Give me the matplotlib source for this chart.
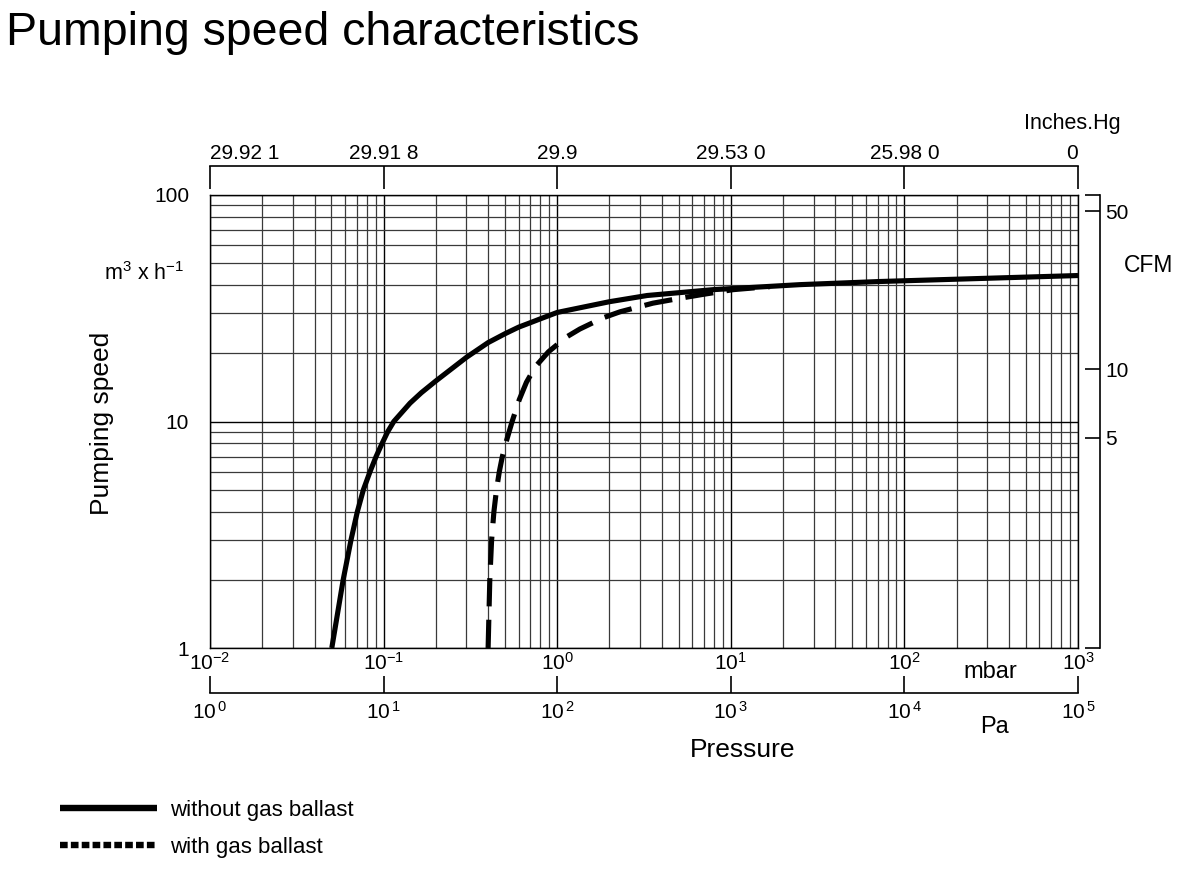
import matplotlib
matplotlib.use('Agg')
import matplotlib.pyplot as plt
from matplotlib.lines import Line2D
from matplotlib.ticker import FixedLocator, NullFormatter, NullLocator, LogLocator

plt.rcParams['font.family'] = ['Liberation Sans', 'DejaVu Sans']
plt.rcParams['mathtext.fontset'] = 'custom'
plt.rcParams['mathtext.rm'] = 'Liberation Sans'
plt.rcParams['mathtext.it'] = 'Liberation Sans:italic'
plt.rcParams['mathtext.bf'] = 'Liberation Sans:bold'

# pumping speed curves (pressure in mbar, speed in m3/h)
solid_p = [0.0503, 0.0585, 0.0649, 0.0706, 0.0765, 0.0835, 0.0905, 0.0980, 0.1055,
           0.1145, 0.142, 0.165, 0.2, 0.3, 0.4, 0.5, 0.6, 0.7, 0.8, 1.0,
           2.0, 3.3, 7.9, 25.0, 72.0, 1000.0]
solid_s = [1.0, 2.0, 3.0, 4.0, 5.0, 6.0, 7.0, 8.0, 9.0,
           10.0, 12.05, 13.4, 15.1, 19.2, 22.3, 24.4, 26.1, 27.3, 28.4, 30.3,
           33.8, 36.0, 38.2, 40.2, 41.5, 44.1]

ballast_p = [0.400, 0.409, 0.419, 0.432, 0.447, 0.464, 0.483, 0.505, 0.55, 0.605,
             0.665, 0.75, 0.89, 1.13, 1.35, 1.84, 2.30, 3.56, 5.1, 6.9,
             10.3, 14.2, 16.8]
ballast_s = [1.0, 2.0, 3.0, 4.0, 5.0, 6.0, 7.0, 8.0, 10.0, 12.5,
             14.9, 17.5, 20.3, 23.6, 25.6, 28.7, 30.5, 33.3, 35.0, 36.4,
             38.2, 39.0, 39.4]

# axis labelling
mbar_ticks = [1e-2, 1e-1, 1e0, 1e1, 1e2, 1e3]
mbar_exp = ['-2', '-1', '0', '1', '2', '3']
pa_ticks = [1e0, 1e1, 1e2, 1e3, 1e4, 1e5]
pa_exp = ['0', '1', '2', '3', '4', '5']
inhg_labels = ['29.92 1', '29.91 8', '29.9', '29.53 0', '25.98 0', '0']
speed_ticks = [1, 10, 100]
cfm_ticks = [5, 10, 50]
M3H_TO_CFM = 0.5886

W, H = 1184, 884
fig = plt.figure(figsize=(W / 100, H / 100), dpi=100)


def fx(px):
    return px / W


def fy(py):
    return 1 - py / H


x0, x1, y0, y1 = 210, 1078, 195, 648
ax = fig.add_axes([fx(x0), fy(y1), fx(x1) - fx(x0), fy(y0) - fy(y1)])
ax.set_xscale('log')
ax.set_yscale('log')
ax.set_xlim(1e-2, 1e3)
ax.set_ylim(1, 100)

ax.plot(solid_p, solid_s, color='black', lw=3.7, solid_capstyle='butt',
        solid_joinstyle='round', zorder=5)
ax.plot(ballast_p, ballast_s, color='black', lw=3.7, dashes=(5.5, 2.6),
        dash_capstyle='butt', dash_joinstyle='round', zorder=5)

ax.xaxis.set_minor_locator(LogLocator(subs=range(2, 10), numticks=20))
ax.yaxis.set_minor_locator(LogLocator(subs=range(2, 10), numticks=20))
ax.xaxis.set_minor_formatter(NullFormatter())
ax.yaxis.set_minor_formatter(NullFormatter())
ax.grid(which='major', color='black', lw=1.0)
ax.grid(which='minor', color='#3a3a3a', lw=0.9)
ax.set_axisbelow(True)
for s in ax.spines.values():
    s.set_linewidth(1.0)

ax.set_xticks(mbar_ticks, [r'$\mathregular{10^{%s}}$' % e for e in mbar_exp])
ax.set_yticks(speed_ticks, [str(v) for v in speed_ticks])
ax.tick_params(which='both', length=0, labelsize=15)
ax.tick_params(axis='x', pad=3)
ax.tick_params(axis='y', pad=15)

# top inches Hg scale
ax_top = ax.secondary_xaxis(1 + 29 / (y1 - y0))
ax_top.xaxis.set_minor_locator(NullLocator())
ax_top.set_xticks(mbar_ticks, inhg_labels)
ax_top.tick_params(direction='in', length=16.5, width=1.2, labelsize=15, pad=2)
ax_top.spines['top'].set_linewidth(1.2)
tl = ax_top.get_xticklabels()
tl[0].set_ha('left')
tl[-1].set_ha('right')

# bottom Pa scale
ax_pa = ax.secondary_xaxis(-(693 - y1) / (y1 - y0),
                           functions=(lambda x: x * 100, lambda x: x / 100))
ax_pa.xaxis.set_minor_locator(NullLocator())
ax_pa.set_xticks(pa_ticks, [r'$\mathregular{10^{\,%s}}$' % e for e in pa_exp])
ax_pa.tick_params(direction='in', length=12, width=1.2, labelsize=15, pad=6)
ax_pa.spines['bottom'].set_linewidth(1.2)

# right CFM scale
ax_cfm = ax.secondary_yaxis(1 + 22 / (x1 - x0),
                            functions=(lambda s: s * M3H_TO_CFM,
                                       lambda c: c / M3H_TO_CFM))
ax_cfm.set_yticks(cfm_ticks, [str(v) for v in cfm_ticks])
ax_cfm.yaxis.set_minor_locator(FixedLocator([v * M3H_TO_CFM for v in ax.get_ylim()]))
ax_cfm.yaxis.set_minor_formatter(NullFormatter())
ax_cfm.tick_params(which='both', direction='in', length=11, width=1.2,
                   labelsize=15, pad=4)
ax_cfm.spines['right'].set_linewidth(1.2)

# axis titles and units
fig.text(fx(6), fy(33), 'Pumping speed characteristics', fontsize=33.5,
         ha='left', va='center')
fig.text(fx(1072), fy(124), 'Inches.Hg', fontsize=15.5, ha='center', va='center')
fig.text(fx(1149), fy(265), 'CFM', fontsize=16.5, ha='center', va='center')
fig.text(fx(144), fy(274), r'm$^{3}$ x h$^{-1}$', fontsize=15.5, ha='center',
         va='center')
fig.text(fx(102), fy(423), 'Pumping speed', fontsize=19, rotation=90,
         ha='center', va='center')
fig.text(fx(990), fy(672), 'mbar', fontsize=17, ha='center', va='center')
fig.text(fx(995), fy(727), 'Pa', fontsize=17, ha='center', va='center')
fig.text(fx(743), fy(750), 'Pressure', fontsize=19, ha='center', va='center')

# legend
handles = [Line2D([], [], color='black', lw=4.6, solid_capstyle='butt'),
           Line2D([], [], color='black', lw=4.6, linestyle=(0, (1.2, 0.5)),
                  dash_capstyle='butt')]
fig.legend(handles, ['without gas ballast', 'with gas ballast'],
           loc='upper left', bbox_to_anchor=(fx(44), fy(784)), frameon=False,
           fontsize=16, handlelength=4.4, handletextpad=0.55, labelspacing=0.75,
           borderpad=0.2)

fig.savefig('out.png', dpi=100)
